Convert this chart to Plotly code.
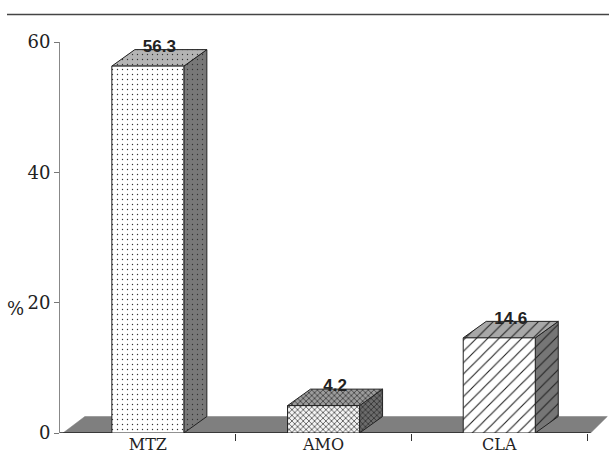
import plotly.graph_objects as go

# ---- data ----
categories = ["MTZ", "AMO", "CLA"]
values = [56.3, 4.2, 14.6]
value_labels = ["56.3", "4.2", "14.6"]
y_ticks = [0, 20, 40, 60]

# ---- style ----
front_bg = ["#ffffff", "#f4f4f4", "#ffffff"]
top_bg = ["#b4b4b4", "#9c9c9c", "#a8a8a8"]
side_bg = ["#787878", "#6c6c6c", "#767676"]
pat_shape = [".", "x", "/"]
pat_size = [5, 4, 8]
pat_solid = [0.06, 0.3, 0.14]
pat_fg = ["#333", "#222", "#222"]

W, H = 609, 458
ML, MR, MT, MB = 60, 0, 42, 25
PX_PER_CAT = 175.7
plot_w = W - ML - MR
plot_h = H - MT - MB
x_range = [-0.5, -0.5 + plot_w / PX_PER_CAT]
y_range = [0, 60]
px_per_val = plot_h / (y_range[1] - y_range[0])

DX = 23 / PX_PER_CAT      # 3D depth, horizontal (category units)
DY = 16.5 / px_per_val    # 3D depth, vertical (value units)
HALF = 0.205              # half bar width

fig = go.Figure()


def poly(xs, ys, bg, shape, size, solid, fg, line_color="#222"):
    fig.add_trace(go.Scatter(
        x=list(xs) + [xs[0]], y=list(ys) + [ys[0]],
        mode="lines", fill="toself", fillcolor=bg,
        fillpattern=dict(shape=shape, fgcolor=fg, bgcolor=bg,
                         size=size, solidity=solid, fillmode="replace"),
        line=dict(color=line_color, width=1),
        hoverinfo="skip", showlegend=False))


# floor
fl_l, fl_r, fl_tr = -0.483, 2.52, 2.615
fig.add_trace(go.Scatter(
    x=[fl_l, fl_r, fl_tr, fl_l + DX * 0.95, fl_l],
    y=[0, 0, DY, DY, 0], mode="lines", fill="toself",
    fillcolor="#7f7f7f", line=dict(color="#7f7f7f", width=0.5),
    hoverinfo="skip", showlegend=False))
fig.add_trace(go.Scatter(
    x=[x_range[0], fl_r], y=[0, 0], mode="lines",
    line=dict(color="#222", width=1.5), hoverinfo="skip", showlegend=False))

# bars
for i, v in enumerate(values):
    c = i
    x0, x1 = c - HALF, c + HALF
    # side
    poly([x1, x1 + DX, x1 + DX, x1], [0, DY, v + DY, v],
         side_bg[i], pat_shape[i], pat_size[i], pat_solid[i], pat_fg[i])
    # top
    poly([x0, x1, x1 + DX, x0 + DX], [v, v, v + DY, v + DY],
         top_bg[i], pat_shape[i], pat_size[i], pat_solid[i], pat_fg[i])
    # front
    poly([x0, x1, x1, x0], [0, 0, v, v],
         front_bg[i], pat_shape[i], pat_size[i], pat_solid[i], pat_fg[i])

# value labels
fig.add_trace(go.Scatter(
    x=[i + DX / 2 for i in range(len(values))],
    y=[v + DY + 0.3 for v in values],
    mode="text", text=value_labels, textposition="middle center",
    textfont=dict(family="Liberation Sans", size=17, color="#222", weight="bold"),
    cliponaxis=False, hoverinfo="skip", showlegend=False))

serif = "DejaVu Serif"
fig.update_layout(
    width=W, height=H,
    margin=dict(l=ML, r=MR, t=MT, b=MB),
    paper_bgcolor="white", plot_bgcolor="white",
    xaxis=dict(range=x_range, tickmode="array", automargin=False,
               tickvals=list(range(len(categories))), ticktext=categories,
               ticks="", ticklen=0,
               tickfont=dict(family=serif, size=16, color="#222"),
               showgrid=False, zeroline=False, showline=False,
               minor=dict(tickvals=[0.5, 1.5, 2.5], ticks="outside",
                          ticklen=7, tickcolor="#333", tickwidth=1, showgrid=False)),
    yaxis=dict(range=y_range, tickmode="array", tickvals=y_ticks, automargin=False,
               ticks="outside", ticklen=5, tickcolor="#777", tickwidth=1,
               showline=True, linecolor="#888", linewidth=1,
               tickfont=dict(family=serif, size=18, color="#222"),
               showgrid=False, zeroline=False),
    annotations=[dict(text="%", xref="paper", yref="paper",
                      x=(15 - ML) / plot_w, y=(H - MB - 308) / plot_h,
                      showarrow=False, xanchor="center", yanchor="middle",
                      font=dict(family=serif, size=18, color="#222"))],
    shapes=[dict(type="line", xref="paper", yref="paper",
                 x0=(7 - ML) / plot_w, x1=(W - ML) / plot_w,
                 y0=(H - MB - 14.5) / plot_h, y1=(H - MB - 14.5) / plot_h,
                 line=dict(color="#444", width=1.5))],
)

fig.write_html("out.html")
